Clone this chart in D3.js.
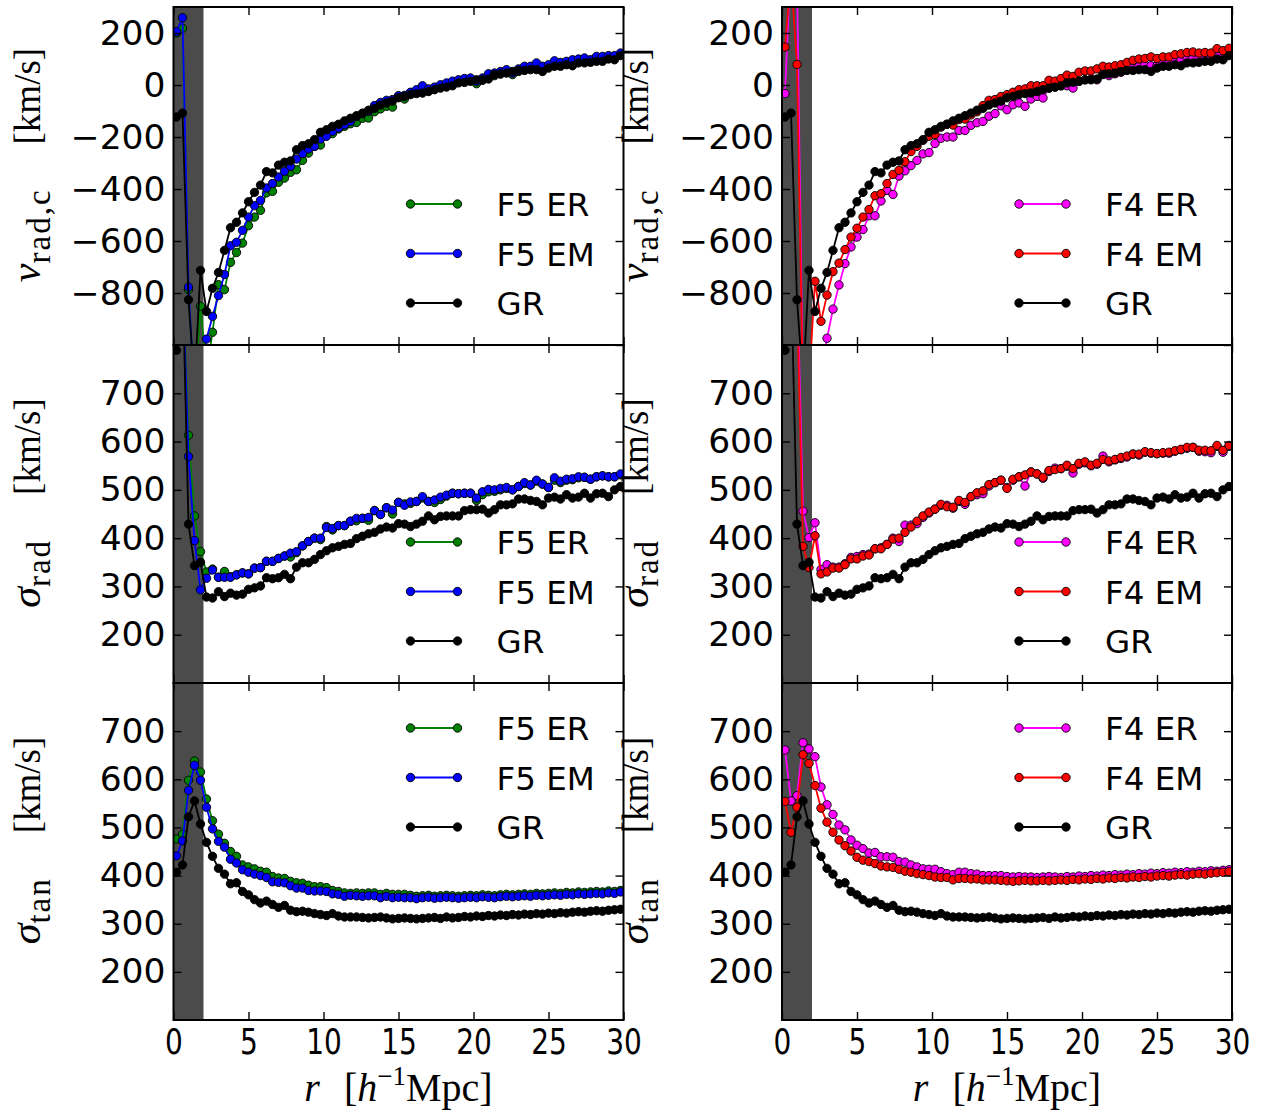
<!doctype html>
<html>
<head>
<meta charset="utf-8" />
<title>velocity profiles</title>
<script src="https://cdn.jsdelivr.net/npm/d3@7"></script>
<style>
body { margin: 0; background: #fff; }
</style>
</head>
<body>
<svg id="fig" width="1269" height="1114"></svg>
<script>
// radial bins (h^-1 Mpc)
var rBins = [0.2,0.6,1.0,1.4,1.8,2.2,2.6,3.0,3.4,3.8,4.2,4.6,5.0,5.4,5.8,6.2,6.6,7.0,7.4,7.8,
  8.2,8.6,9.0,9.4,9.8,10.2,10.6,11.0,11.4,11.8,12.2,12.6,13.0,13.4,13.8,14.2,14.6,15.0,15.4,15.8,
  16.2,16.6,17.0,17.4,17.8,18.2,18.6,19.0,19.4,19.8,20.2,20.6,21.0,21.4,21.8,22.2,22.6,23.0,23.4,23.8,
  24.2,24.6,25.0,25.4,25.8,26.2,26.6,27.0,27.4,27.8,28.2,28.6,29.0,29.4,29.8];

// v_rad,c (km/s)
var vradGR = [-123,-108,-826,-1150,-713,-871,-782,-721,-636,-549,
  -528,-492,-449,-413,-385,-333,-338,-308,-297,-292,
  -249,-233,-226,-210,-182,-172,-159,-151,-138,-128,
  -118,-108,-97,-90,-77,-69,-62,-49,-44,-37,
  -33,-31,-25,-18,-12,-8,-3,8,10,14,
  20,20,23,40,43,46,52,56,56,59,
  59,52,65,72,72,78,74,85,85,87,
  91,91,100,97,113];
var vradF5ER = [200,218,-787,-1200,-851,-1100,-951,-768,-787,-682,
  -644,-608,-541,-508,-482,-415,-409,-374,-358,-336,
  -326,-290,-262,-236,-231,-195,-187,-169,-159,-149,
  -144,-128,-127,-103,-92,-82,-85,-44,-54,-31,
  -24,-20,-22,-15,-8,0,8,12,16,20,
  5,18,32,36,42,48,40,52,62,64,
  72,68,72,84,82,86,92,96,98,95,
  104,106,110,110,118];
var vradF5EM = [205,259,-777,-1200,-1150,-977,-890,-810,-729,-618,
  -605,-559,-508,-464,-444,-396,-379,-354,-332,-313,
  -285,-264,-246,-236,-208,-197,-178,-165,-153,-140,
  -121,-110,-101,-79,-67,-59,-56,-41,-40,-28,
  -18,-3,-15,-8,1,8,15,20,25,27,
  14,27,43,46,52,59,46,62,72,72,
  85,72,78,93,87,91,97,100,104,97,
  110,110,113,113,123];
var vradF4ER = [-33,500,400,-1200,-1200,-1100,-1100,-974,-862,-769,
  -687,-623,-585,-556,-503,-503,-446,-405,-421,-350,
  -330,-310,-290,-265,-260,-225,-205,-200,-200,-175,
  -175,-155,-145,-140,-120,-110,-80,-95,-76,-69,
  -82,-54,-44,-50,-12,-8,-3,-3,-12,14,
  20,23,20,43,36,43,49,59,65,72,
  78,74,74,82,85,91,97,100,104,104,
  100,104,113,104,125];
var vradF4EM = [146,420,79,-1200,-1150,-755,-909,-808,-718,-685,
  -633,-585,-551,-508,-479,-426,-418,-379,-344,-328,
  -295,-256,-236,-213,-197,-190,-162,-151,-154,-133,
  -131,-115,-103,-79,-59,-56,-44,-37,-28,-18,
  -15,-3,-3,-3,18,15,25,38,33,49,
  54,54,62,72,69,74,78,87,95,100,
  102,108,102,108,108,117,120,125,127,123,
  125,123,140,132,141];

// sigma_rad (km/s)
var sradGR = [789,950,429,343,350,278,276,289,279,286,
  282,284,294,297,301,318,316,318,325,316,
  340,349,349,356,366,374,380,383,387,389,
  399,404,409,412,419,423,421,430,429,424,
  429,435,446,438,445,446,446,446,457,459,
  459,460,452,459,469,469,471,481,481,478,
  476,469,483,485,481,490,483,485,493,483,
  492,493,486,500,507];
var sradF5ER = [1100,950,613,446,372,330,336,319,331,320,
  324,328,326,338,339,352,352,358,363,361,
  370,384,393,400,397,424,417,426,426,435,
  436,441,437,457,449,463,450,474,471,472,
  476,483,476,474,480,487,493,492,493,493,
  478,490,496,497,500,503,500,507,513,510,
  518,512,505,520,515,520,521,525,526,522,
  527,529,527,527,531];
var sradF5EM = [1150,950,569,395,293,317,334,319,319,319,
  324,328,326,338,339,352,352,358,363,369,
  372,384,393,400,400,422,420,426,426,435,
  441,441,443,457,449,463,458,474,468,475,
  476,486,476,479,485,489,493,492,493,493,
  483,496,501,500,503,505,500,507,515,510,
  520,512,505,525,518,522,523,527,526,522,
  527,529,527,527,533];
var sradF4ER = [1100,1000,950,456,401,432,335,345,340,340,
  347,360,362,366,367,378,380,387,400,393,
  427,427,430,443,452,460,468,468,462,476,
  470,486,490,492,508,515,520,505,520,527,
  508,537,533,524,538,545,544,549,535,553,
  556,550,553,570,558,562,565,568,574,572,
  578,576,575,576,576,580,583,586,588,580,
  579,577,590,578,590];
var sradF4EM = [1100,1000,900,383,339,405,326,330,338,338,
  345,357,357,363,365,378,378,387,398,400,
  412,423,435,446,454,460,470,465,464,478,
  474,486,494,498,511,515,520,503,522,527,
  531,537,533,526,540,542,544,551,544,555,
  558,551,555,563,560,563,567,570,574,574,
  579,577,575,577,578,581,584,588,588,582,
  582,581,592,582,592];

// sigma_tan (km/s)
var stanGR = [407,422,522,555,507,469,440,415,403,383,
  385,367,360,350,343,347,340,334,338,328,
  325,326,324,321,319,317,321,316,314,314,
  314,313,312,313,314,312,310,311,312,311,
  310,311,312,313,311,314,312,313,315,314,
  316,315,317,316,318,317,319,318,320,319,
  321,320,322,321,323,322,324,325,324,326,
  327,326,328,329,330];
var stanF5ER = [476,486,598,638,615,559,514,486,467,450,
  440,422,418,414,409,407,398,395,394,388,
  385,384,380,377,377,375,369,367,364,363,
  364,363,364,364,361,363,361,361,361,359,
  357,358,359,357,358,359,358,357,358,359,
  358,360,359,358,360,361,360,361,362,361,
  363,362,363,364,363,365,364,366,365,366,
  367,366,368,367,369];
var stanF5EM = [441,472,577,629,598,542,497,471,459,434,
  426,412,407,403,400,396,387,386,385,379,
  374,374,369,368,368,367,362,361,357,359,
  358,357,358,358,354,357,354,355,354,354,
  352,354,355,353,354,355,354,353,354,355,
  354,356,355,354,356,357,356,357,358,357,
  359,358,359,360,359,361,360,362,361,362,
  363,362,364,363,366];
var stanF4ER = [661,555,566,676,663,647,584,547,527,505,
  495,474,463,456,447,448,439,439,438,429,
  428,422,418,414,413,413,408,404,402,407,
  407,404,403,400,400,400,400,398,397,398,
  397,397,396,397,398,397,396,398,397,399,
  398,400,399,401,400,402,401,403,402,404,
  403,405,404,406,405,407,406,408,407,409,
  408,410,409,411,412];
var stanF4EM = [554,490,542,651,633,587,540,511,490,474,
  462,451,438,432,429,425,420,418,417,413,
  409,407,404,402,400,397,396,396,391,394,
  394,393,393,391,391,391,390,389,388,389,
  390,389,389,390,389,390,391,390,392,391,
  393,392,394,393,395,394,396,395,397,396,
  398,397,399,400,399,401,402,401,403,404,
  403,405,406,407,408];

var xTicks = [0, 5, 10, 15, 20, 25, 30];
var vradTicks = [-1000, -800, -600, -400, -200, 0, 200];
var sigTicks = [200, 300, 400, 500, 600, 700];
var screenedR = 2;   // shaded region

var svg = d3.select('#fig');
var colLeft = [173.5, 782];
var panelW = 450;
var rowTop = [7, 345, 683];
var panelH = [338, 338, 337];

var rows = [
  { domain: [-1000, 300], ticks: vradTicks, hide: [-1000], legendTop: false,
    label: ['v', 'rad,c'],
    left: [['F5 ER', 'green', vradF5ER], ['F5 EM', 'blue', vradF5EM], ['GR', 'black', vradGR]],
    right: [['F4 ER', 'magenta', vradF4ER], ['F4 EM', 'red', vradF4EM], ['GR', 'black', vradGR]] },
  { domain: [100, 800], ticks: sigTicks, hide: [], legendTop: false,
    label: ['\u03c3', 'rad'],
    left: [['F5 ER', 'green', sradF5ER], ['F5 EM', 'blue', sradF5EM], ['GR', 'black', sradGR]],
    right: [['F4 ER', 'magenta', sradF4ER], ['F4 EM', 'red', sradF4EM], ['GR', 'black', sradGR]] },
  { domain: [100, 800], ticks: sigTicks, hide: [], legendTop: true,
    label: ['\u03c3', 'tan'],
    left: [['F5 ER', 'green', stanF5ER], ['F5 EM', 'blue', stanF5EM], ['GR', 'black', stanGR]],
    right: [['F4 ER', 'magenta', stanF4ER], ['F4 EM', 'red', stanF4EM], ['GR', 'black', stanGR]] }
];

var fmt = function(d) { return d < 0 ? '\u2212' + Math.abs(d) : '' + d; };
var clipId = 0;

function drawPanel(row, k, c) {
  var x0 = colLeft[c], y0 = rowTop[k], h = panelH[k];
  var x = d3.scaleLinear().domain([0, 30]).range([x0, x0 + panelW]);
  var y = d3.scaleLinear().domain(row.domain).range([y0 + h, y0]);
  var series = c === 0 ? row.left : row.right;

  var id = 'clip' + (clipId++);
  svg.append('clipPath').attr('id', id)
    .append('rect').attr('x', x0).attr('y', y0).attr('width', panelW).attr('height', h);
  var g = svg.append('g').attr('clip-path', 'url(#' + id + ')');

  g.append('rect')
    .attr('x', x(0)).attr('y', y0)
    .attr('width', x(screenedR) - x(0)).attr('height', h)
    .attr('fill', '#4b4b4b');

  var line = d3.line().x(function(d) { return x(d[0]); }).y(function(d) { return y(d[1]); });
  series.forEach(function(s) {
    var pts = rBins.map(function(r, i) { return [r, s[2][i]]; });
    g.append('path').datum(pts)
      .attr('d', line).attr('fill', 'none')
      .attr('stroke', s[1]).attr('stroke-width', 1.8);
    g.selectAll(null).data(pts).enter().append('circle')
      .attr('cx', function(d) { return x(d[0]); })
      .attr('cy', function(d) { return y(d[1]); })
      .attr('r', 4.2)
      .attr('fill', s[1]).attr('stroke', 'black').attr('stroke-width', 0.9);
  });

  // axes, ticks pointing inward
  var ax = svg.append('g').attr('class', 'axes');
  ax.append('g').attr('class', 'ylab').attr('transform', 'translate(' + x0 + ',0)')
    .call(d3.axisLeft(y).tickValues(row.ticks).tickSizeInner(-8).tickSizeOuter(0).tickPadding(8)
      .tickFormat(function(d) { return row.hide.indexOf(d) >= 0 ? '' : fmt(d); }));
  ax.append('g').attr('transform', 'translate(' + (x0 + panelW) + ',0)')
    .call(d3.axisRight(y).tickValues(row.ticks).tickSizeInner(-8).tickSizeOuter(0).tickFormat(''));
  ax.append('g').attr('class', 'xlab').attr('transform', 'translate(0,' + (y0 + h) + ')')
    .call(d3.axisBottom(x).tickValues(xTicks).tickSizeInner(-8).tickSizeOuter(0).tickPadding(9)
      .tickFormat(k === 2 ? d3.format('d') : ''));
  ax.append('g').attr('transform', 'translate(0,' + y0 + ')')
    .call(d3.axisTop(x).tickValues(xTicks).tickSizeInner(-8).tickSizeOuter(0).tickFormat(''));
  ax.selectAll('.domain').remove();
  ax.selectAll('.tick line').attr('stroke', 'black').attr('stroke-width', 1.4);
  ax.selectAll('.tick text').attr('fill', 'black').style('font-family', 'DejaVu Sans');
  ax.selectAll('.ylab .tick text').style('font-size', '34.5px');
  ax.selectAll('.xlab .tick text').style('font-size', '35px')
    .attr('transform', 'scale(0.8,1)');

  svg.append('rect').attr('x', x0).attr('y', y0).attr('width', panelW).attr('height', h)
    .attr('fill', 'none').attr('stroke', 'black').attr('stroke-width', 2);

  // y label
  var lab = svg.append('text')
    .attr('transform', 'translate(' + (x0 - 134) + ',' + (y0 + h / 2 - 11) + ') rotate(-90)')
    .attr('text-anchor', 'middle')
    .style('font-family', 'Liberation Serif').style('font-size', '37px');
  lab.append('tspan').style('font-style', 'italic').style('font-size', '42px').text(row.label[0]);
  lab.append('tspan').attr('dy', 10).style('font-size', '33px').style('letter-spacing', '2px')
    .text(row.label[1]);
  lab.append('tspan').attr('dy', -10).attr('dx', 44).text('[km/s]');

  // legend
  var ly0 = row.legendTop ? y0 + 45 : y0 + 197;
  series.forEach(function(s, j) {
    var ly = ly0 + j * 49.5;
    var lg = svg.append('g');
    lg.append('line').attr('x1', x0 + 237).attr('x2', x0 + 284).attr('y1', ly).attr('y2', ly)
      .attr('stroke', s[1]).attr('stroke-width', 1.8);
    [237, 284].forEach(function(dx) {
      lg.append('circle').attr('cx', x0 + dx).attr('cy', ly).attr('r', 4.2)
        .attr('fill', s[1]).attr('stroke', 'black').attr('stroke-width', 0.9);
    });
    lg.append('text').attr('x', x0 + 323).attr('y', ly + 12)
      .style('font-family', 'DejaVu Sans').style('font-size', '32.5px').text(s[0]);
  });

  // x label
  if (k === 2) {
    var xl = svg.append('text')
      .attr('x', x0 + panelW / 2).attr('y', 1101)
      .attr('text-anchor', 'middle')
      .style('font-family', 'Liberation Serif').style('font-size', '40px');
    xl.append('tspan').style('font-style', 'italic').text('r');
    xl.append('tspan').attr('dx', 24).text('[');
    xl.append('tspan').style('font-style', 'italic').text('h');
    xl.append('tspan').attr('dy', -16).style('font-size', '27px').text('\u22121');
    xl.append('tspan').attr('dy', 16).text('Mpc]');
  }
}

rows.forEach(function(row, k) {
  drawPanel(row, k, 0);
  drawPanel(row, k, 1);
});
</script>
</body>
</html>
